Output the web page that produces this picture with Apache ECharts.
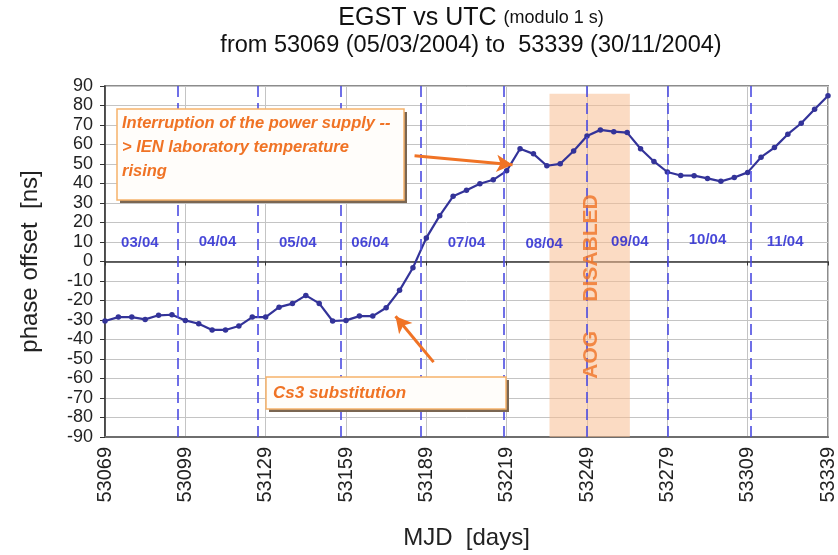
<!DOCTYPE html>
<html><head><meta charset="utf-8">
<script src="https://cdn.jsdelivr.net/npm/echarts@6/dist/echarts.min.js"></script>
<style>html,body{margin:0;padding:0;background:#fff}#c{width:838px;height:555px}</style>
</head><body><div id="c"></div>
<script>
// ---- data ----
const MJD0 = 53069;
const mjd = [53069,53074,53079,53084,53089,53094,53099,53104,53109,53114,
             53119,53124,53129,53134,53139,53144,53149,53154,53159,53164,
             53169,53174,53179,53184,53189,53194,53199,53204,53209,53214,
             53219,53224,53229,53234,53239,53244,53249,53254,53259,53264,
             53269,53274,53279,53284,53289,53294,53299,53304,53309,53314,
             53319,53324,53329,53334,53339];
const phase = [-30.5,-28.5,-28.5,-29.7,-27.6,-27.3,-30.2,-31.9,-35.1,-35.1,
               -33.1,-28.5,-28.5,-23.4,-21.6,-17.4,-21.5,-30.5,-30.2,-28.0,
               -28.0,-23.7,-14.8,-3.2,12.1,23.5,33.4,36.5,39.9,41.9,
               46.5,57.8,55.2,49.1,50.1,56.7,64.4,67.5,66.6,66.1,
               57.8,51.3,45.9,44.1,44.0,42.6,41.1,43.1,45.7,53.5,
               58.4,65.3,70.9,78.1,85.0];
const xTicks = [53069,53099,53129,53159,53189,53219,53249,53279,53309,53339];
const yTicks = [-90,-80,-70,-60,-50,-40,-30,-20,-10,0,10,20,30,40,50,60,70,80,90];
const monthStarts = [53096,53126,53157,53187,53218,53249,53279,53310];
const monthNames = ['03/04','04/04','05/04','06/04','07/04','08/04','09/04','10/04','11/04'];
const monthNameMjd = [53082,53111,53141,53168,53204,53233,53265,53294,53323];
const monthNameY = [9.5,10,9.5,9.5,9.5,9,10,11,10];
const aogBand = [53235,53265];
const aogTop = 86;

// ---- chart ----
const FONT = '"Liberation Sans", Arial, sans-serif';
const ORANGE = '#f07325';
const off = m => m - MJD0;
const chart = echarts.init(document.getElementById('c'), null, {renderer:'canvas'});

function box(x, y, w, h) {
  return [
    {type:'rect', z:99, shape:{x:x+3, y:y+3, width:w, height:h}, style:{fill:'#7a6652', stroke:null}},
    {type:'rect', z:100, shape:{x:x, y:y, width:w, height:h}, style:{fill:'#fffdfa', stroke:'#f6b26b', lineWidth:1.5}}
  ];
}

const option = {
  animation: false,
  textStyle: {fontFamily: FONT},
  grid: {left:105, right:9, top:86, bottom:117, show:true, borderColor:'#8c8c8c', borderWidth:2, backgroundColor:'#fff'},
  xAxis: [
    {type:'value', min:off(xTicks[0]), max:off(xTicks[xTicks.length-1]), interval:xTicks[1]-xTicks[0], position:'bottom',
     axisLine:{onZero:false, lineStyle:{color:'#6e6e6e', width:2}},
     axisTick:{show:false},
     axisLabel:{rotate:90, fontSize:20, color:'#222', margin:10, fontFamily:FONT, formatter: v => String(v + MJD0)},
     splitLine:{show:true, lineStyle:{color:'#c4c4c4', width:1}},
     name:'MJD  [days]', nameLocation:'middle', nameGap:89, nameTextStyle:{fontSize:24, color:'#222', fontFamily:FONT}},
    {type:'value', min:off(xTicks[0]), max:off(xTicks[xTicks.length-1]), interval:xTicks[1]-xTicks[0], position:'bottom',
     axisLine:{onZero:true, lineStyle:{color:'#333', width:1.5}},
     axisTick:{show:true, length:4, lineStyle:{color:'#333', width:1}},
     axisLabel:{show:false}, splitLine:{show:false}}
  ],
  yAxis: {type:'value', min:yTicks[0], max:yTicks[yTicks.length-1], interval:yTicks[1]-yTicks[0],
     axisLine:{show:true, onZero:false, lineStyle:{color:'#333', width:1.5}},
     axisTick:{show:true, length:5, lineStyle:{color:'#333'}},
     axisLabel:{fontSize:18, color:'#222', margin:12, fontFamily:FONT},
     splitLine:{show:true, lineStyle:{color:'#c4c4c4', width:1}},
     name:'phase offset  [ns]', nameLocation:'middle', nameGap:63, nameRotate:90,
     nameTextStyle:{fontSize:24, color:'#222', fontFamily:FONT}},
  series: [
    {type:'line', data:[], z:1, silent:true,
     markLine:{silent:true, symbol:['none','none'], label:{show:false},
       lineStyle:{color:'#4c4ce2', type:[11,6], width:1.6},
       data: monthStarts.map(m => ({xAxis: off(m)}))}},
    {type:'line', z:3, data: mjd.map((m,i) => [off(m), phase[i]]),
     color:'#333399', lineStyle:{color:'#333399', width:2.2},
     symbol:'circle', symbolSize:5.5, itemStyle:{color:'#333399'}},
    {type:'scatter', z:4, symbolSize:0, silent:true,
     data: monthNames.map((n,i) => ({name:n, value:[off(monthNameMjd[i]), monthNameY[i]]})),
     label:{show:true, position:'inside', formatter: p => p.name, color:'#1a1ad0', fontSize:15, fontWeight:'bold', fontFamily:FONT}},
    {type:'line', data:[], z:5, silent:true,
     markArea:{silent:true, itemStyle:{color:'rgba(247,190,145,0.55)'},
       data:[[{xAxis:off(aogBand[0]), yAxis:yTicks[0]}, {xAxis:off(aogBand[1]), yAxis:aogTop}]]}},
    {type:'scatter', z:6, symbolSize:0, silent:true,
     data:[{name:'AOG     DISABLED', value:[off(53250.5), -12.8]}],
     label:{show:true, position:'inside', rotate:90, formatter:p => p.name, color:ORANGE, fontSize:21, fontWeight:'bold', fontFamily:FONT}},
    {type:'line', data:[], z:7, silent:true,
     markLine:{silent:true, symbol:['none','arrow'], symbolSize:[13,16], label:{show:false},
       lineStyle:{color:ORANGE, type:'solid', width:3},
       data:[
         [{coord:[off(53184.6), 54.2]}, {coord:[off(53221.2), 49.6]}],
         [{coord:[off(53191.7), -51.6]}, {coord:[off(53177.5), -28.1]}]
       ]}}
  ],
  graphic: [
    {type:'text', z:100, x:471, y:18, style:{text:'{a|EGST vs UTC }{b|(modulo 1 s)}', align:'center', verticalAlign:'middle',
       rich:{a:{fontSize:25, fill:'#111', fontFamily:FONT}, b:{fontSize:18, fill:'#111', fontFamily:FONT}}}},
    {type:'text', z:100, x:471, y:46, style:{text:'from 53069 (05/03/2004) to  53339 (30/11/2004)', align:'center', verticalAlign:'middle',
       font:'23.5px ' + FONT, fill:'#111'}},
    ...box(117, 109, 287, 91),
    {type:'text', z:101, x:122, y:111, style:{text:'Interruption of the power supply --\n> IEN laboratory temperature\nrising',
       font:'italic bold 16.5px ' + FONT, fill:ORANGE, lineHeight:24, verticalAlign:'top'}},
    ...box(266, 377, 240, 32),
    {type:'text', z:101, x:273, y:393, style:{text:'Cs3 substitution',
       font:'italic bold 17px ' + FONT, fill:ORANGE, verticalAlign:'middle'}}
  ]
};
chart.setOption(option);
</script>
</body></html>
